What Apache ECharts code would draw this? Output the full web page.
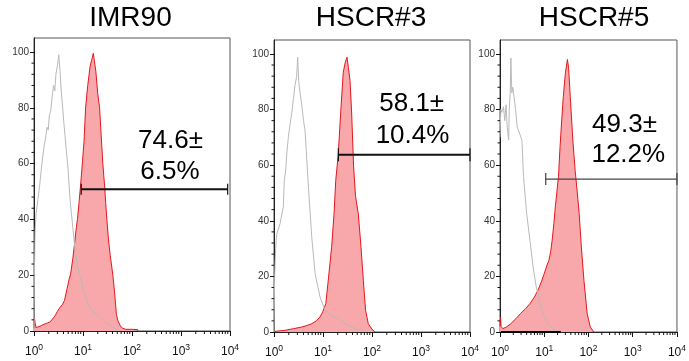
<!DOCTYPE html>
<html><head><meta charset="utf-8">
<script src="https://cdn.jsdelivr.net/npm/echarts@6/dist/echarts.min.js"></script>
<style>html,body{margin:0;padding:0;background:#fff}#c{width:689px;height:361px}</style>
</head><body><div id="c"></div>
<script>
// ---- data ----
const panelTitles = ['IMR90', 'HSCR#3', 'HSCR#5'];
const xTickValues = [1, 10, 100, 1000, 10000];
const yTickValues = [0, 20, 40, 60, 80, 100];
const xMinorTicks = [2,3,4,5,6,7,8,9,20,30,40,50,60,70,80,90,200,300,400,500,600,700,800,900,2000,3000,4000,5000,6000,7000,8000,9000];
const yMinorTicks = [4,8,12,16,24,28,32,36,44,48,52,56,64,68,72,76,84,88,92,96];

const imrRed = [[1.0,1],[1.02,5],[1.05,3],[1.1,1.2],[1.2,1.3],[1.35,1.8],[1.5,2.2],[1.7,2.6],[1.9,2.9],[2.1,3.2],[2.4,4.3],[2.7,5.5],[3.0,7],[3.4,8.5],[3.8,9.5],[4.2,11],[4.7,15],[5.2,18.5],[5.6,20.5],[6.2,26],[6.8,32],[7.3,37],[7.7,40],[8.3,46],[8.9,52],[9.4,57],[9.8,61],[10.5,68],[11.3,80],[12.5,88],[14,95],[15.5,98],[16.2,99.5],[17,97],[18.3,93],[20,85],[21.8,80],[23.5,70],[25.4,60],[27.6,52],[29,46],[30.7,40],[33,33],[36,27],[40.7,20],[44,14],[46,10],[48,6],[52,3.5],[58,1.8],[64,1],[75,0.6],[100,0.6],[130,0.5],[131,0]];
const imrGray = [[1.0,0],[1.02,20],[1.05,35],[1.1,42],[1.2,47],[1.3,52],[1.45,60],[1.6,66],[1.75,70],[1.85,73],[1.95,72],[2.05,77],[2.2,79],[2.35,84],[2.5,88],[2.65,86],[2.8,92],[3.0,95],[3.2,99],[3.4,93],[3.6,86],[3.85,80],[4.05,75],[4.5,66],[4.95,58],[5.4,48],[5.8,42],[6.3,36],[6.8,30],[7.6,24],[8.5,20],[9.2,18],[10.5,14],[12,11],[13.6,8.6],[16,7],[19,6],[22,5],[27,3.5],[33,2.3],[41,1.4],[47,0.3],[52,0]];

const h3Red = [[1.0,0.2],[1.67,0.6],[2.5,1.2],[3.7,1.8],[4.8,2.4],[5.9,3],[7.3,4],[8.7,5.4],[10,7.5],[11.4,10.2],[12.8,18.6],[15.0,30.5],[16.8,42.5],[18.2,54.5],[20.5,64],[23.3,80.8],[25.9,93.4],[28.5,97],[30.9,98.8],[33,95],[35.6,90.4],[38.5,78.4],[42,60],[46,49],[52.5,42.5],[59.7,30.5],[66.5,18.6],[74,7.8],[84,3],[100,1],[111,0.3],[115,0]];
const h3Gray = [[1.0,0],[1.03,20],[1.08,30],[1.13,35],[1.33,39],[1.55,45],[1.62,54.5],[1.73,58],[1.82,64],[1.96,70],[2.1,74],[2.29,78.4],[2.5,84],[2.68,88.6],[2.8,88],[2.9,92],[3.04,98.8],[3.2,90],[3.4,86],[3.67,82],[4.0,76],[4.3,72.4],[5.0,53.3],[5.2,48.5],[5.9,34],[6.9,21],[8.7,12.6],[11,7.8],[14,6.2],[17.6,5.4],[24,3.8],[32.9,2.4],[45,1.3],[61,0.6],[75,0]];

const h5Red = [[1.0,2],[1.03,5.4],[1.06,2],[1.16,1.2],[1.4,1.8],[1.76,3],[2.3,4.8],[2.89,6.6],[3.8,8.4],[4.75,10.2],[6.0,12.6],[7.2,15],[8.6,18],[10,21],[11.5,24],[12.8,25.8],[14,29],[15.1,33],[16.5,39],[17.8,45],[19.5,51],[21,56],[22.8,66.7],[25,77],[27,84.7],[30,93],[33.4,98],[35.5,95],[38.7,84.7],[44.3,69],[50,58],[56,50],[61.5,42.7],[69,30.6],[78.9,18.6],[93.4,6.6],[110,1.8],[128,0.3],[130,0]];
const h5Gray = [[1.0,70],[1.04,80],[1.1,79],[1.2,81],[1.28,76],[1.37,81.7],[1.45,74],[1.57,69],[1.62,80],[1.7,86],[1.76,98.5],[1.85,86],[1.95,88],[2.07,84.7],[2.25,80],[2.44,73.9],[2.7,74],[3.13,69],[3.4,55.9],[4.0,42.7],[4.75,33],[5.6,23.4],[6.6,16.2],[8.5,9],[10.8,4.2],[15.1,1.2],[22.8,0.2],[25,0]];
const h5Baseline = [[1.04,0],[23.6,0]];

// bracket gates: [start, end, level]
const gates = [[9.2, 8960, 50.8], [20.6, 10000, 63.7], [10.8, 10000, 55]];
const gateLabels = [['74.6±', '6.5%'], ['58.1±', '10.4%'], ['49.3±', '12.2%']];

// ---- layout ----
const grids = [
  {left: 34, top: 38, width: 196, height: 293},
  {left: 274, top: 40, width: 196, height: 292},
  {left: 500, top: 40, width: 186, height: 292}
];
const titlePos = [[130.5, 18], [371, 18], [594, 18]];
const textPos = [[[170.5, 141], [170, 172]], [[411.7, 104], [412.5, 136]], [[624.5, 125], [628.3, 155]]];
const gateColors = ['#111', '#111', '#444'];
const gateWidths = [2, 2, 1.3];
const gateCap = [5.5, 6.5, 6];

const reds = [imrRed, h3Red, h5Red];
const grays = [imrGray, h3Gray, h5Gray];

const chart = echarts.init(document.getElementById('c'), null, {renderer: 'canvas'});
const xAxes = [], yAxes = [], series = [], graphics = [];
const FN = "Arial, 'Liberation Sans', sans-serif";
grids.forEach((g, i) => {
  g.show = true; g.borderColor = '#555'; g.borderWidth = 1; g.backgroundColor = 'transparent';
  xAxes.push({
    type: 'log', logBase: 10, min: 1, max: 10000, gridIndex: i,
    axisLine: {show: true, onZero: false, lineStyle: {color: '#222', width: 1}},
    axisTick: {show: true, length: 5, lineStyle: {color: '#111', width: 1}},
    splitLine: {show: false},
    axisLabel: {
      margin: 12, color: '#111', showMaxLabel: true, showMinLabel: true,
      formatter: v => '{b|10}{s|' + Math.round(Math.log10(v)) + '}',
      rich: {
        b: {fontSize: 12, fontFamily: FN, color: '#111', lineHeight: 17},
        s: {fontSize: 8.5, fontFamily: FN, color: '#111', lineHeight: 9, verticalAlign: 'top'}
      }
    }
  });
  yAxes.push({
    type: 'value', min: 0, max: 105, interval: 20, gridIndex: i,
    axisLine: {show: true, lineStyle: {color: '#222', width: 1}},
    axisTick: {show: true, length: 4, customValues: yTickValues, lineStyle: {color: '#111'}},
    axisLabel: {customValues: yTickValues, fontSize: 10, color: '#333', margin: 5, fontFamily: FN},
    splitLine: {show: false}
  });
  series.push({
    type: 'line', xAxisIndex: i, yAxisIndex: i, data: reds[i], symbol: 'none', z: 2,
    lineStyle: {color: '#E4161E', width: 1}, areaStyle: {color: '#F8A8AA', opacity: 1}, silent: true
  });
  series.push({
    type: 'line', xAxisIndex: i, yAxisIndex: i, data: grays[i], symbol: 'none', z: 3,
    lineStyle: {color: '#B9B9B9', width: 1}, silent: true
  });
  series.push({
    type: 'custom', xAxisIndex: i, yAxisIndex: i, silent: true, clip: false, z: 5,
    data: xMinorTicks.map(v => [v, 0]), encode: {x: 0, y: 1},
    renderItem: (params, api) => {
      const p = api.coord([api.value(0), 0]);
      return {type: 'line', shape: {x1: p[0], y1: p[1], x2: p[0], y2: p[1] + 3}, style: {stroke: '#111', lineWidth: 1}};
    }
  });
  series.push({
    type: 'custom', xAxisIndex: i, yAxisIndex: i, silent: true, clip: false, z: 5,
    data: yMinorTicks.map(v => [1, v]), encode: {x: 0, y: 1},
    renderItem: (params, api) => {
      const p = api.coord([1, api.value(1)]);
      return {type: 'line', shape: {x1: p[0] - 2.5, y1: p[1], x2: p[0], y2: p[1]}, style: {stroke: '#111', lineWidth: 1}};
    }
  });
  series.push({
    type: 'custom', xAxisIndex: i, yAxisIndex: i, silent: true, clip: false, z: 6,
    data: [gates[i]], encode: {x: [0, 1], y: 2},
    renderItem: (params, api) => {
      const a = api.coord([api.value(0), api.value(2)]);
      const b = api.coord([api.value(1), api.value(2)]);
      const c = gateCap[i];
      const st = {stroke: gateColors[i], lineWidth: gateWidths[i]};
      return {type: 'group', children: [
        {type: 'line', shape: {x1: a[0], y1: a[1], x2: b[0], y2: b[1]}, style: st},
        {type: 'line', shape: {x1: a[0], y1: a[1] - c, x2: a[0], y2: a[1] + c}, style: {stroke: gateColors[i], lineWidth: 1.2}},
        {type: 'line', shape: {x1: b[0], y1: b[1] - c, x2: b[0], y2: b[1] + c}, style: {stroke: gateColors[i], lineWidth: 1.2}}
      ]};
    }
  });
  graphics.push({type: 'text', x: titlePos[i][0], y: titlePos[i][1], style: {text: panelTitles[i], font: '28px Arial, "Liberation Sans", sans-serif', fill: '#000', align: 'center', verticalAlign: 'middle'}});
  gateLabels[i].forEach((t, k) => {
    graphics.push({type: 'text', x: textPos[i][k][0], y: textPos[i][k][1], style: {text: t, font: '26px Arial, "Liberation Sans", sans-serif', fill: '#000', align: 'center', verticalAlign: 'middle'}});
  });
});
series.push({
  type: 'line', xAxisIndex: 2, yAxisIndex: 2, data: h5Baseline, symbol: 'none', z: 4,
  lineStyle: {color: '#000', width: 2.2}, silent: true
});

chart.setOption({
  animation: false,
  grid: grids,
  xAxis: xAxes,
  yAxis: yAxes,
  series: series,
  graphic: graphics
});
</script>
</body></html>
